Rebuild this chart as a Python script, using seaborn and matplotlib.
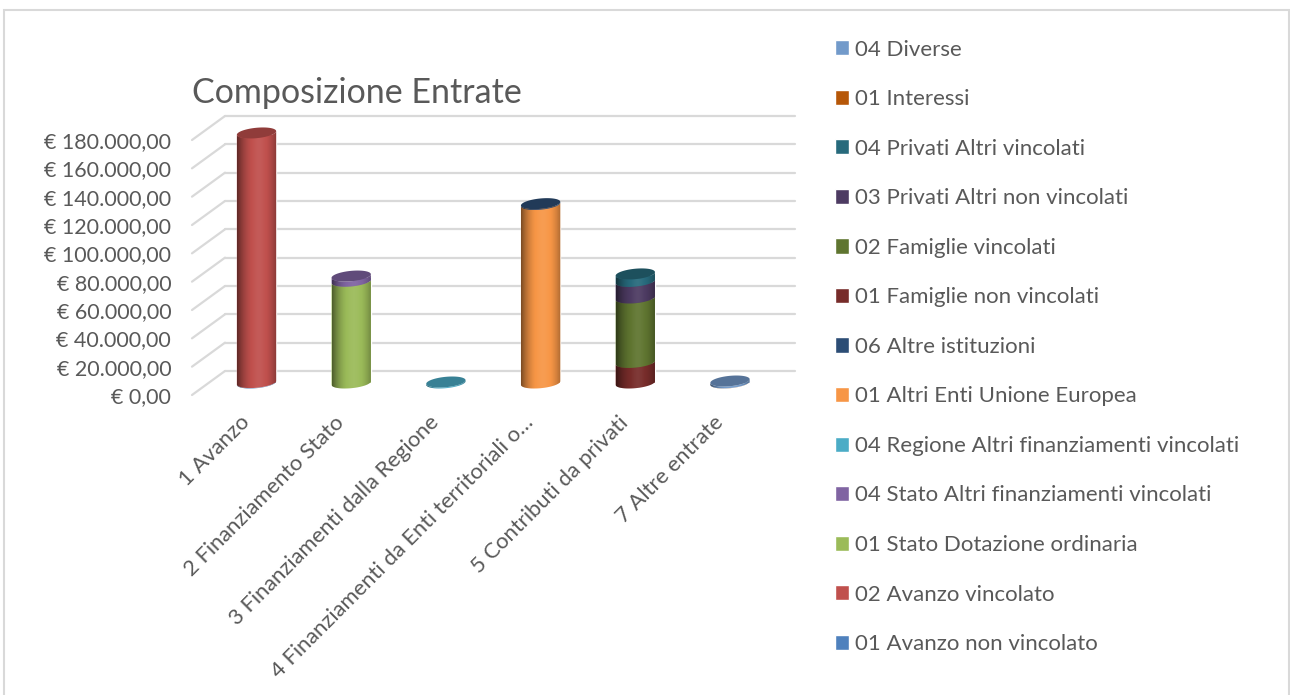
import numpy as np
import matplotlib
matplotlib.use("Agg")
import matplotlib.pyplot as plt
from matplotlib.patches import Rectangle
from matplotlib.transforms import ScaledTranslation
import seaborn as sns

categories = ["1 Avanzo", "2 Finanziamento Stato", "3 Finanziamenti dalla Regione",
              "4 Finanziamenti da Enti territoriali o…", "5 Contributi da privati", "7 Altre entrate"]

# stacking order, bottom to top
series_names = ["01 Avanzo non vincolato", "02 Avanzo vincolato", "01 Stato Dotazione ordinaria",
                "04 Stato Altri finanziamenti vincolati", "04 Regione Altri finanziamenti vincolati",
                "01 Altri Enti Unione Europea", "06 Altre istituzioni", "01 Famiglie non vincolati",
                "02 Famiglie vincolati", "03 Privati Altri non vincolati", "04 Privati Altri vincolati",
                "01 Interessi", "04 Diverse"]
series_colors = ["#4f81bd", "#c0504d", "#9bbb59", "#8064a2", "#4bacc6", "#f79646", "#2c4d75",
                 "#772c2a", "#5f7530", "#4d3b62", "#276a7c", "#b65708", "#729aca"]
series_values = [
    [300, 0, 0, 0, 0, 0],
    [176200, 0, 0, 0, 0, 0],
    [0, 71800, 0, 0, 0, 0],
    [0, 3700, 0, 0, 0, 0],
    [0, 0, 700, 0, 0, 0],
    [0, 0, 0, 126000, 0, 0],
    [0, 0, 0, 600, 0, 0],
    [0, 0, 0, 0, 14500, 0],
    [0, 0, 0, 0, 45500, 0],
    [0, 0, 0, 0, 11700, 0],
    [0, 0, 0, 0, 5300, 0],
    [0, 0, 0, 0, 0, 100],
    [0, 0, 0, 0, 0, 1300],
]
y_ticks = list(range(0, 200000, 20000))
y_tick_labels = ["€ 0,00", "€ 20.000,00", "€ 40.000,00", "€ 60.000,00", "€ 80.000,00", "€ 100.000,00",
                 "€ 120.000,00", "€ 140.000,00", "€ 160.000,00", "€ 180.000,00"]

W, H = 1290, 695
TEXT = "#595959"
GRID = "#d9d9d9"
PX_X = 94.7  # pixels per category
PX_Y = 28.33 / 20000  # pixels per euro

sns.set_theme(style="white")
plt.rcParams["font.family"] = ["Lato", "DejaVu Sans"]


def px_axes(fig, left, right, top, bottom):
    return fig.add_axes([left / W, 1 - bottom / H, (right - left) / W, (bottom - top) / H])


def cylinder(ax, bar, color, is_top):
    x0, w = bar.get_x(), bar.get_width()
    v0, v1 = bar.get_y(), bar.get_y() + bar.get_height()
    b, k = 5.2 / PX_Y, 1.8 / PX_Y  # half height and tilt of the ellipse
    t = np.linspace(0, np.pi, 60)
    cx = x0 + w / 2 + w / 2 * np.cos(t)
    up = b * np.sin(t) + k * np.cos(t)
    down = -b * np.sin(t) + k * np.cos(t)
    # body: front arc at the base, front arc at the top
    xs = np.r_[cx[::-1], cx]
    ys = np.r_[v0 + down[::-1], v1 + down]
    body = ax.fill(xs, ys, color=color, lw=0, zorder=3, clip_on=False)[0]
    prof = np.linspace(0, 1, 64)
    off = np.abs(prof - 0.55) / 0.55
    shade = 0.5 * off ** 2.5 - 0.07 * (1 - off) ** 2
    rgba = np.zeros((1, 64, 4))
    rgba[0, :, :3] = (shade < 0)[:, None]
    rgba[0, :, 3] = np.clip(np.abs(shade), 0, 1)
    im = ax.imshow(rgba, extent=(x0, x0 + w, v0 - b - k, v1 + b + k), aspect="auto", zorder=3,
                   interpolation="bilinear")
    im.set_clip_path(body)
    if is_top:
        ax.fill(np.r_[cx, cx[::-1]], np.r_[v1 + up, v1 + down[::-1]],
                color=tuple(c * 0.75 for c in matplotlib.colors.to_rgb(color)), lw=0, zorder=4, clip_on=False)


def main():
    fig = plt.figure(figsize=(W / 100, H / 100), dpi=100)
    fig.add_artist(Rectangle((4 / W, -0.02), 1285 / W, 1.02 - 10 / H, transform=fig.transFigure,
                             fill=False, ec=GRID, lw=1.5))

    xlim = (-64.5 / PX_X, 538.5 / PX_X)
    ylim = (0, 180000)

    # front plane carries the value labels and the wall lines
    ax_front = px_axes(fig, 192, 795, 140, 395)
    depth = 24 / PX_Y
    x_wall = -31.5 / PX_X
    for tick in y_ticks:
        ax_front.plot([xlim[0], x_wall], [tick, tick + depth], color=GRID, lw=1.6, clip_on=False, zorder=1)
        ax_front.plot([x_wall, xlim[1]], [tick + depth, tick + depth], color=GRID, lw=1.6, clip_on=False, zorder=1)
    ax_front.set_xlim(xlim)
    ax_front.set_ylim(ylim)
    ax_front.set_xticks([])
    ax_front.set_yticks(y_ticks, y_tick_labels, fontsize=15.5, color=TEXT)
    ax_front.tick_params(axis="y", length=0, pad=15)
    sns.despine(ax=ax_front, left=True, bottom=True)

    # cylinders stand in the middle of the depth, a few pixels above the front plane;
    # their axes reach lower so the round base is not cut
    ax = px_axes(fig, 192, 795, 128, 397)
    ax.patch.set_alpha(0)
    bottoms = np.zeros(len(categories))
    for name, color, values in zip(series_names, series_colors, series_values):
        n_before = len(ax.patches)
        sns.barplot(x=categories, y=values, bottom=bottoms, color=color, saturation=1, width=0.415,
                    label=name, order=categories, ax=ax, zorder=2)
        for i, bar in enumerate(ax.patches[n_before:]):
            if values[i] > 0:
                is_top = bottoms[i] + values[i] >= np.array(series_values)[:, i].sum()
                cylinder(ax, bar, color, is_top)
        bottoms = bottoms + np.array(values)
    ax.set_xlim(xlim)
    ax.set_ylim(-14 / PX_Y, 180000)
    ax.set_ylabel("")
    ax.set_yticks([])
    ax.set_xticks(range(len(categories)), categories, rotation=45, ha="right", rotation_mode="anchor",
                  fontsize=15.8, color=TEXT)
    ax.tick_params(axis="x", length=0, pad=11)
    shift = ScaledTranslation(-17 / 100, 0, fig.dpi_scale_trans)
    for label in ax.get_xticklabels():
        label.set_transform(label.get_transform() + shift)
    sns.despine(ax=ax, left=True, bottom=True)

    handles, labels = ax.get_legend_handles_labels()
    ax.get_legend().remove()
    fig.legend(handles[::-1], labels[::-1], loc="upper left", bbox_to_anchor=(835 / W, 1 - 39.5 / H),
               frameon=False, fontsize=16, labelcolor=TEXT, handlelength=0.63, handleheight=0.68,
               handletextpad=0.27, labelspacing=1.33, borderpad=0, borderaxespad=0)

    fig.text(192 / W, 1 - 93 / H, "Composizione Entrate", fontsize=24.5, color=TEXT, va="center", ha="left")
    fig.savefig("out.png", dpi=100)


if __name__ == "__main__":
    main()
